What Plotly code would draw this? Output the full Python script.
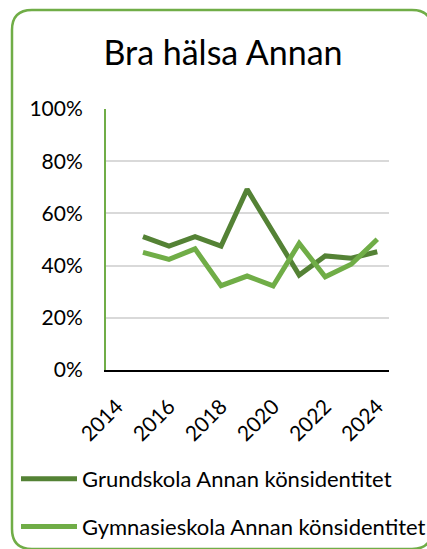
import plotly.graph_objects as go

years = [2015, 2016, 2017, 2018, 2019, 2020, 2021, 2022, 2023, 2024]
grundskola = [0.511, 0.475, 0.511, 0.475, 0.692, 0.528, 0.364, 0.437, 0.428, 0.453]
gymnasieskola = [0.451, 0.424, 0.464, 0.323, 0.360, 0.322, 0.485, 0.357, 0.405, 0.501]
series_names = ["Grundskola Annan könsidentitet", "Gymnasieskola Annan könsidentitet"]
series_colors = ["#548235", "#70AD47"]
title_text = "Bra hälsa Annan"
x_ticks = [2014, 2016, 2018, 2020, 2022, 2024]
y_ticks = [0, 0.2, 0.4, 0.6, 0.8, 1.0]

W, H = 427, 549
L, R, T, B = 106, 389, 109, 370
FONT = "Lato"

fig = go.Figure()
for i, (name, vals) in enumerate(zip(series_names, [grundskola, gymnasieskola])):
    fig.add_trace(go.Scatter(
        x=years, y=vals, mode="lines", name=name,
        line=dict(color=series_colors[i], width=5),
        legendgroup=f"g{i}",
    ))

def px2paper(px, py):
    return (px - L) / (R - L), (B - py) / (B - T)

def P(px, py):
    a, b = px2paper(px, py)
    return f"{a:.5f},{b:.5f}"

# rounded border (right edge runs just past the visible area)
x0, y0, x1, y1, r = 12, 10, 432, 549, 20
path = (f"M{P(x0+r, y0)} L{P(x1-r, y0)} Q{P(x1, y0)} {P(x1, y0+r)} "
        f"L{P(x1, y1-r)} Q{P(x1, y1)} {P(x1-r, y1)} L{P(x0+r, y1)} "
        f"Q{P(x0, y1)} {P(x0, y1-r)} L{P(x0, y0+r)} Q{P(x0, y0)} {P(x0+r, y0)} Z")
fig.add_shape(type="path", path=path, xref="paper", yref="paper",
              line=dict(color="#70AD47", width=2.5), layer="below")

fig.update_layout(
    width=W, height=H,
    margin=dict(l=L, r=W - R, t=T, b=H - B, autoexpand=False),
    paper_bgcolor="white", plot_bgcolor="white",
    font=dict(family=FONT, color="#000000", size=21),
    title=dict(text=title_text, x=223 / W, xanchor="center", y=1 - 53 / H,
               yanchor="middle", font=dict(size=34, family=FONT, color="#000000")),
    xaxis=dict(range=[2013.58, 2024.45], tickmode="array", tickvals=x_ticks,
               tickangle=-45, showgrid=False, showline=True, linecolor="#000000",
               linewidth=2, ticks="", zeroline=False, tickfont=dict(size=21),
               automargin=False, ticklabelstandoff=14),
    yaxis=dict(range=[0, 1], tickmode="array", tickvals=y_ticks, tickformat=".0%",
               showgrid=True, gridcolor="#D9D9D9", gridwidth=1.5, showline=True,
               linecolor="#70AD47", linewidth=2, ticks="", zeroline=False,
               tickfont=dict(size=21), ticklabelstandoff=17, automargin=False),
    showlegend=True,
    legend=dict(x=px2paper(16, 0)[0], xanchor="left", y=px2paper(0, 458)[1],
                yanchor="top", orientation="v", traceorder="grouped",
                tracegroupgap=16, itemwidth=56, font=dict(size=22),
                bgcolor="rgba(0,0,0,0)"),
)

fig.write_html("out.html", config={"displayModeBar": False},
               post_script="document.body.style.margin='0';document.body.style.overflow='hidden';")
